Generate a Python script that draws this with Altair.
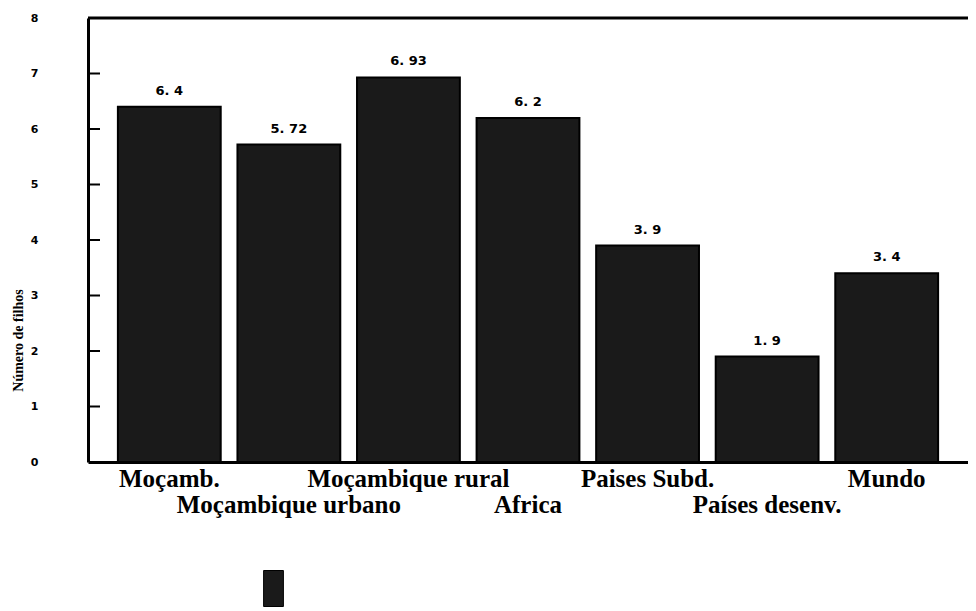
import altair as alt
import pandas as pd

categories = ["Moçamb.", "Moçambique urbano", "Moçambique rural", "Africa",
              "Paises Subd.", "Países desenv.", "Mundo"]
values = [6.4, 5.72, 6.93, 6.2, 3.9, 1.9, 3.4]
value_labels = ["6. 4", "5. 72", "6. 93", "6. 2", "3. 9", "1. 9", "3. 4"]
label_rows = [1, 2, 1, 2, 1, 2, 1]
y_ticks = [0, 1, 2, 3, 4, 5, 6, 7, 8]
inner_ticks = [1, 2, 3, 4, 5, 6, 7]

df = pd.DataFrame({"cat": categories, "val": values, "lab": value_labels, "row": label_rows})
ticks_df = pd.DataFrame({"t": inner_ticks})
top_df = pd.DataFrame({"t": [8]})
leg_df = pd.DataFrame({"s": [""]})

W, H = 880, 444
x_enc = alt.X("cat:N", sort=categories,
              scale=alt.Scale(paddingInner=0.14, paddingOuter=0.25),
              axis=alt.Axis(labels=False, ticks=False, title=None,
                            domainColor="black", domainWidth=3))
y_scale = alt.Scale(domain=[0, 8], nice=False)

bars = alt.Chart(df).mark_bar(color="#1a1a1a", stroke="black", strokeWidth=2).encode(
    x=x_enc,
    y=alt.Y("val:Q", scale=y_scale,
            axis=alt.Axis(values=y_ticks, format="d", ticks=False, grid=False,
                          domainColor="black", domainWidth=3,
                          labelFont="DejaVu Sans", labelFontWeight="bold",
                          labelFontSize=11, labelColor="black", labelPadding=50,
                          title="Número de filhos", titleFont="Liberation Serif",
                          titleFontWeight="bold", titleFontSize=14, titleColor="black",
                          titleX=-66, titleY=322, titleAngle=-90,
                          titleAlign="center", titleBaseline="alphabetic")),
)

vlabels = alt.Chart(df).mark_text(font="DejaVu Sans", fontWeight="bold", fontSize=13,
                                   color="black", dy=-16).encode(
    x=alt.X("cat:N", sort=categories),
    y=alt.Y("val:Q", scale=y_scale),
    text="lab:N",
)

row1 = alt.Chart(df).transform_filter("datum.row == 1").mark_text(
    font="Liberation Serif", fontWeight="bold", fontSize=25, color="black",
    baseline="alphabetic", dy=25).encode(
    x=alt.X("cat:N", sort=categories),
    y=alt.datum(0, scale=y_scale),
    text="cat:N",
)
row2 = alt.Chart(df).transform_filter("datum.row == 2").mark_text(
    font="Liberation Serif", fontWeight="bold", fontSize=25, color="black",
    baseline="alphabetic", dy=51).encode(
    x=alt.X("cat:N", sort=categories),
    y=alt.datum(0, scale=y_scale),
    text="cat:N",
)

tick_marks = alt.Chart(ticks_df).mark_rule(color="black", strokeWidth=2).encode(
    x=alt.value(0), x2=alt.value(12),
    y=alt.Y("t:Q", scale=y_scale),
)

top_line = alt.Chart(top_df).mark_rule(color="black", strokeWidth=3).encode(
    x=alt.value(0), x2=alt.value(W),
    y=alt.Y("t:Q", scale=y_scale),
)

legend_mark = alt.Chart(leg_df).mark_point(opacity=0, filled=True).encode(
    x=alt.value(0), y=alt.value(0),
    color=alt.Color("s:N", scale=alt.Scale(range=["#1a1a1a"]),
                    legend=alt.Legend(orient="none", legendX=167, legendY=552,
                                      title=None, labelExpr="''",
                                      symbolType="M-0.55,-1L0.55,-1L0.55,1L-0.55,1Z",
                                      symbolSize=1296, symbolOpacity=1,
                                      symbolFillColor="#1a1a1a", symbolStrokeColor="black",
                                      symbolStrokeWidth=1)),
)

chart = alt.layer(bars, tick_marks, top_line, vlabels, row1, row2, legend_mark).properties(
    width=W, height=H,
    autosize=alt.AutoSizeParams(type="none"),
    padding={"left": 80, "top": 10, "right": 0, "bottom": 149},
    background="white",
).configure_view(stroke=None)

chart.save("out.html", embed_options={"renderer": "svg", "actions": False})
